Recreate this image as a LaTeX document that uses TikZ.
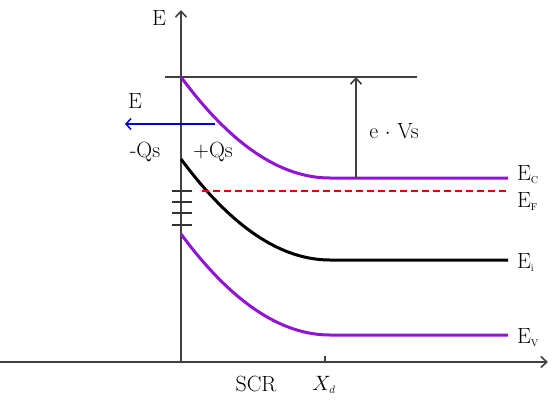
\documentclass[tikz,border=0pt]{standalone}
\usepackage{fontspec}
\setmainfont{Latin Modern Roman}
\usetikzlibrary{arrows.meta}
\begin{document}
\begin{tikzpicture}[x=1pt,y=-1pt,
  lbl/.style={font=\fontsize{22}{24}\selectfont, inner sep=0pt, anchor=base},
  sub/.style={font=\fontsize{10}{12}\selectfont, inner sep=0pt, anchor=base west},
  band/.style={line width=3pt, color=bandpurple},
  axis/.style={line width=1.1pt, color=black!75},
  ss/.style={line width=1.2pt, color=black!80}]
\definecolor{bandpurple}{RGB}{145,20,210}
\useasboundingbox (0,0) rectangle (555,400);
% axes
\coordinate (xa0) at (0,362);
\coordinate (xa1) at (548,362);
\coordinate (ya0) at (181,362);
\coordinate (ya1) at (181,10);
\draw[axis,-{Straight Barb[length=6pt,width=11pt,line width=1.6pt]}] (xa0) -- (xa1);
\draw[axis,-{Straight Barb[length=6pt,width=11pt,line width=1.6pt]}] (ya0) -- (ya1);
\node[lbl] (Eaxis) at (159,25) {E};
% vacuum / top line
\coordinate (t0) at (165,77);
\coordinate (t1) at (417,77);
\draw[axis] (t0) -- (t1);
% bands
\coordinate (c0) at (181,77); \coordinate (c1) at (330,178); \coordinate (c2) at (508,178);
\draw[band] (c0) .. controls (230.7,144.3) and (280.3,178) .. (c1) -- (c2);
\coordinate (i0) at (181,159); \coordinate (i1) at (330,260); \coordinate (i2) at (508,260);
\draw[line width=3pt] (i0) .. controls (230.7,226.3) and (280.3,260) .. (i1) -- (i2);
\coordinate (v0) at (181,234); \coordinate (v1) at (330,335); \coordinate (v2) at (508,335);
\draw[band] (v0) .. controls (230.7,301.3) and (280.3,335) .. (v1) -- (v2);
% Fermi level
\coordinate (f0) at (202,191); \coordinate (f1) at (508,191);
\draw[red!90!black, line width=2.6pt, dash pattern=on 7pt off 4pt] (f0) -- (f1);
% surface states
\foreach \yy/\n in {191/a,202/b,213/c,225/d}{
  \coordinate (s0\n) at (172,\yy); \coordinate (s1\n) at (192,\yy);
  \draw[ss] (s0\n) -- (s1\n);}
% e Vs arrow
\coordinate (vs0) at (356,178); \coordinate (vs1) at (356,77);
\draw[axis,-{Straight Barb[length=6pt,width=11pt,line width=1.6pt]}] (vs0) -- (vs1);
\node[lbl] (eVs) at (394,138) {e $\cdot$ Vs};
% field arrow
\coordinate (e0) at (215,124); \coordinate (e1) at (125,124);
\draw[blue!85!black, line width=1.4pt, -{Straight Barb[length=5pt,width=11pt,line width=1.5pt]}] (e0) -- (e1);
\node[lbl] (Efield) at (135,108) {E};
\node[lbl] (mQs) at (145,157) {-Qs};
\node[lbl] (pQs) at (213,157) {+Qs};
% labels
\node[lbl,anchor=base west] (EC) at (517,180) {E};
\node[sub] (ECs) at ([xshift=-0.5pt,yshift=-3pt]EC.base east) {C};
\node[lbl,anchor=base west] (EF) at (517,207) {E};
\node[sub] (EFs) at ([xshift=-0.5pt,yshift=-3pt]EF.base east) {F};
\node[lbl,anchor=base west] (Ei) at (517,268) {E};
\node[sub] (Eis) at ([xshift=-0.5pt,yshift=-3pt]Ei.base east) {i};
\node[lbl,anchor=base west] (EV) at (517,343) {E};
\node[sub] (EVs) at ([xshift=-0.5pt,yshift=-3pt]EV.base east) {V};
% bottom labels
\coordinate (tk0) at (325,362); \coordinate (tk1) at (325,356);
\draw[axis] (tk0) -- (tk1);
\node[lbl] (SCR) at (256,391) {SCR};
\node[lbl] (Xd) at (324,390) {$X_{\scriptscriptstyle d}$};
\end{tikzpicture}
\end{document}
